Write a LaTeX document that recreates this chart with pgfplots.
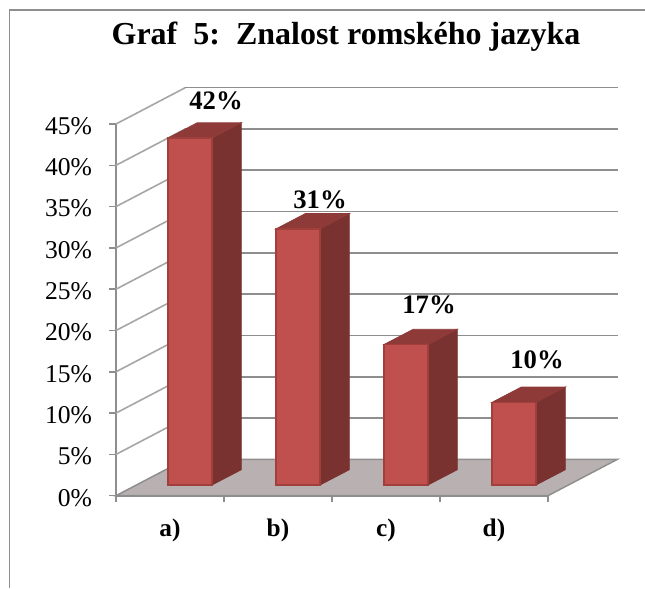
\documentclass[border=0pt]{standalone}
\usepackage{pgfplots}
\pgfplotsset{compat=1.18}
\usepackage{fontspec}
\setmainfont{Liberation Serif}
\definecolor{gridc}{HTML}{8E8E8E}
\definecolor{gridl}{HTML}{A6A6A6}
\definecolor{floorc}{HTML}{B9B1B1}
\definecolor{frontc}{HTML}{C0504D}
\definecolor{frontb}{HTML}{A03F3C}
\definecolor{sidec}{HTML}{7A3230}
\definecolor{topc}{HTML}{8E3A38}
\begin{document}
\begin{tikzpicture}
\begin{scope}[shift={(-87pt,371.775pt)},x=0.75pt,y=-0.75pt]
  \path[use as bounding box,fill=white] (0,0) rectangle (645,588);
  \draw[gridc,line width=1.4pt] (9.5,588) -- (9.5,10) -- (645,10);
  \node[anchor=base,font=\fontsize{24pt}{26pt}\selectfont\bfseries] at (346,45) {Graf\ \ 5:\ \ Znalost romského jazyka};
\end{scope}
\begin{axis}[
  scale only axis,
  width=324pt, height=278.775pt,
  xmin=0, xmax=4, ymin=0, ymax=45,
  clip=false,
  axis x line=bottom, axis y line=left,
  axis line style={-,gridc,line width=1.3pt},
  tick align=outside,
  ytick={0,5,...,45},
  yticklabel={\pgfmathprintnumber[assume math mode=true]{\tick}\%},
  yticklabel style={font=\fontsize{19.2pt}{21pt}\selectfont,xshift=-9.5pt,yshift=-1.5pt},
  xtick={0.5,1.5,2.5,3.5},
  xticklabels={a),b),c),d)},
  xticklabel style={font=\fontsize{19pt}{21pt}\selectfont\bfseries,yshift=-9pt},
  minor xtick={0,1,2,3,4},
  major tick length=5pt,
  minor tick length=5pt,
  every major x tick/.append style={draw=none},
  tick style={gridc,line width=1.1pt},
  minor tick style={gridc,line width=1.1pt},
  bar face/.style={y filter/.expression={y+1.3}},
]
% floor
\addplot[fill=floorc,draw=gridc,line width=1.1pt] coordinates {(0,0) (4,0) (4.6435,4.41) (0.6435,4.41)} -- cycle;
% walls: one line per gridline
\addplot[gridl,line width=1.2pt] coordinates {(0,5) (0.6435,9.41)};
\addplot[gridl,line width=1.2pt] coordinates {(0,10) (0.6435,14.41)};
\addplot[gridl,line width=1.2pt] coordinates {(0,15) (0.6435,19.41)};
\addplot[gridl,line width=1.2pt] coordinates {(0,20) (0.6435,24.41)};
\addplot[gridl,line width=1.2pt] coordinates {(0,25) (0.6435,29.41)};
\addplot[gridl,line width=1.2pt] coordinates {(0,30) (0.6435,34.41)};
\addplot[gridl,line width=1.2pt] coordinates {(0,35) (0.6435,39.41)};
\addplot[gridl,line width=1.2pt] coordinates {(0,40) (0.6435,44.41)};
\addplot[gridl,line width=1.2pt] coordinates {(0,45) (0.6435,49.41)};
\addplot[gridc,line width=1.3pt] coordinates {(0.6435,9.41) (4.6435,9.41)};
\addplot[gridc,line width=1.3pt] coordinates {(0.6435,14.41) (4.6435,14.41)};
\addplot[gridc,line width=1.3pt] coordinates {(0.6435,19.41) (4.6435,19.41)};
\addplot[gridc,line width=1.3pt] coordinates {(0.6435,24.41) (4.6435,24.41)};
\addplot[gridc,line width=1.3pt] coordinates {(0.6435,29.41) (4.6435,29.41)};
\addplot[gridc,line width=1.3pt] coordinates {(0.6435,34.41) (4.6435,34.41)};
\addplot[gridc,line width=1.3pt] coordinates {(0.6435,39.41) (4.6435,39.41)};
\addplot[gridc,line width=1.3pt] coordinates {(0.6435,44.41) (4.6435,44.41)};
\addplot[gridc,line width=1.3pt] coordinates {(0.6435,49.41) (4.6435,49.41)};
% bars: a) 42, b) 31, c) 17, d) 10
\addplot[bar face,fill=sidec,draw=sidec,line width=0.6pt] coordinates {(0.889,0) (1.1603,1.85) (1.1603,43.85) (0.889,42)} -- cycle;
\addplot[bar face,fill=topc,draw=topc,line width=0.6pt] coordinates {(0.4815,42) (0.889,42) (1.1603,43.85) (0.7528,43.85)} -- cycle;
\addplot[bar face,fill=frontc,draw=frontb,line width=0.9pt] coordinates {(0.4815,0) (0.889,0) (0.889,42) (0.4815,42)} -- cycle;
\addplot[bar face,fill=sidec,draw=sidec,line width=0.6pt] coordinates {(1.889,0) (2.1603,1.85) (2.1603,32.85) (1.889,31)} -- cycle;
\addplot[bar face,fill=topc,draw=topc,line width=0.6pt] coordinates {(1.4815,31) (1.889,31) (2.1603,32.85) (1.7528,32.85)} -- cycle;
\addplot[bar face,fill=frontc,draw=frontb,line width=0.9pt] coordinates {(1.4815,0) (1.889,0) (1.889,31) (1.4815,31)} -- cycle;
\addplot[bar face,fill=sidec,draw=sidec,line width=0.6pt] coordinates {(2.889,0) (3.1603,1.85) (3.1603,18.85) (2.889,17)} -- cycle;
\addplot[bar face,fill=topc,draw=topc,line width=0.6pt] coordinates {(2.4815,17) (2.889,17) (3.1603,18.85) (2.7528,18.85)} -- cycle;
\addplot[bar face,fill=frontc,draw=frontb,line width=0.9pt] coordinates {(2.4815,0) (2.889,0) (2.889,17) (2.4815,17)} -- cycle;
\addplot[bar face,fill=sidec,draw=sidec,line width=0.6pt] coordinates {(3.889,0) (4.1603,1.85) (4.1603,11.85) (3.889,10)} -- cycle;
\addplot[bar face,fill=topc,draw=topc,line width=0.6pt] coordinates {(3.4815,10) (3.889,10) (4.1603,11.85) (3.7528,11.85)} -- cycle;
\addplot[bar face,fill=frontc,draw=frontb,line width=0.9pt] coordinates {(3.4815,0) (3.889,0) (3.889,10) (3.4815,10)} -- cycle;
\end{axis}
\begin{scope}[shift={(-87pt,371.775pt)},x=0.75pt,y=-0.75pt,every node/.style={anchor=base,font=\fontsize{20pt}{22pt}\selectfont\bfseries}]
  \node at (216,109.3) {42\%};
  \node at (320,209) {31\%};
  \node at (429,314) {17\%};
  \node at (537,369) {10\%};
\end{scope}
\end{tikzpicture}
\end{document}
